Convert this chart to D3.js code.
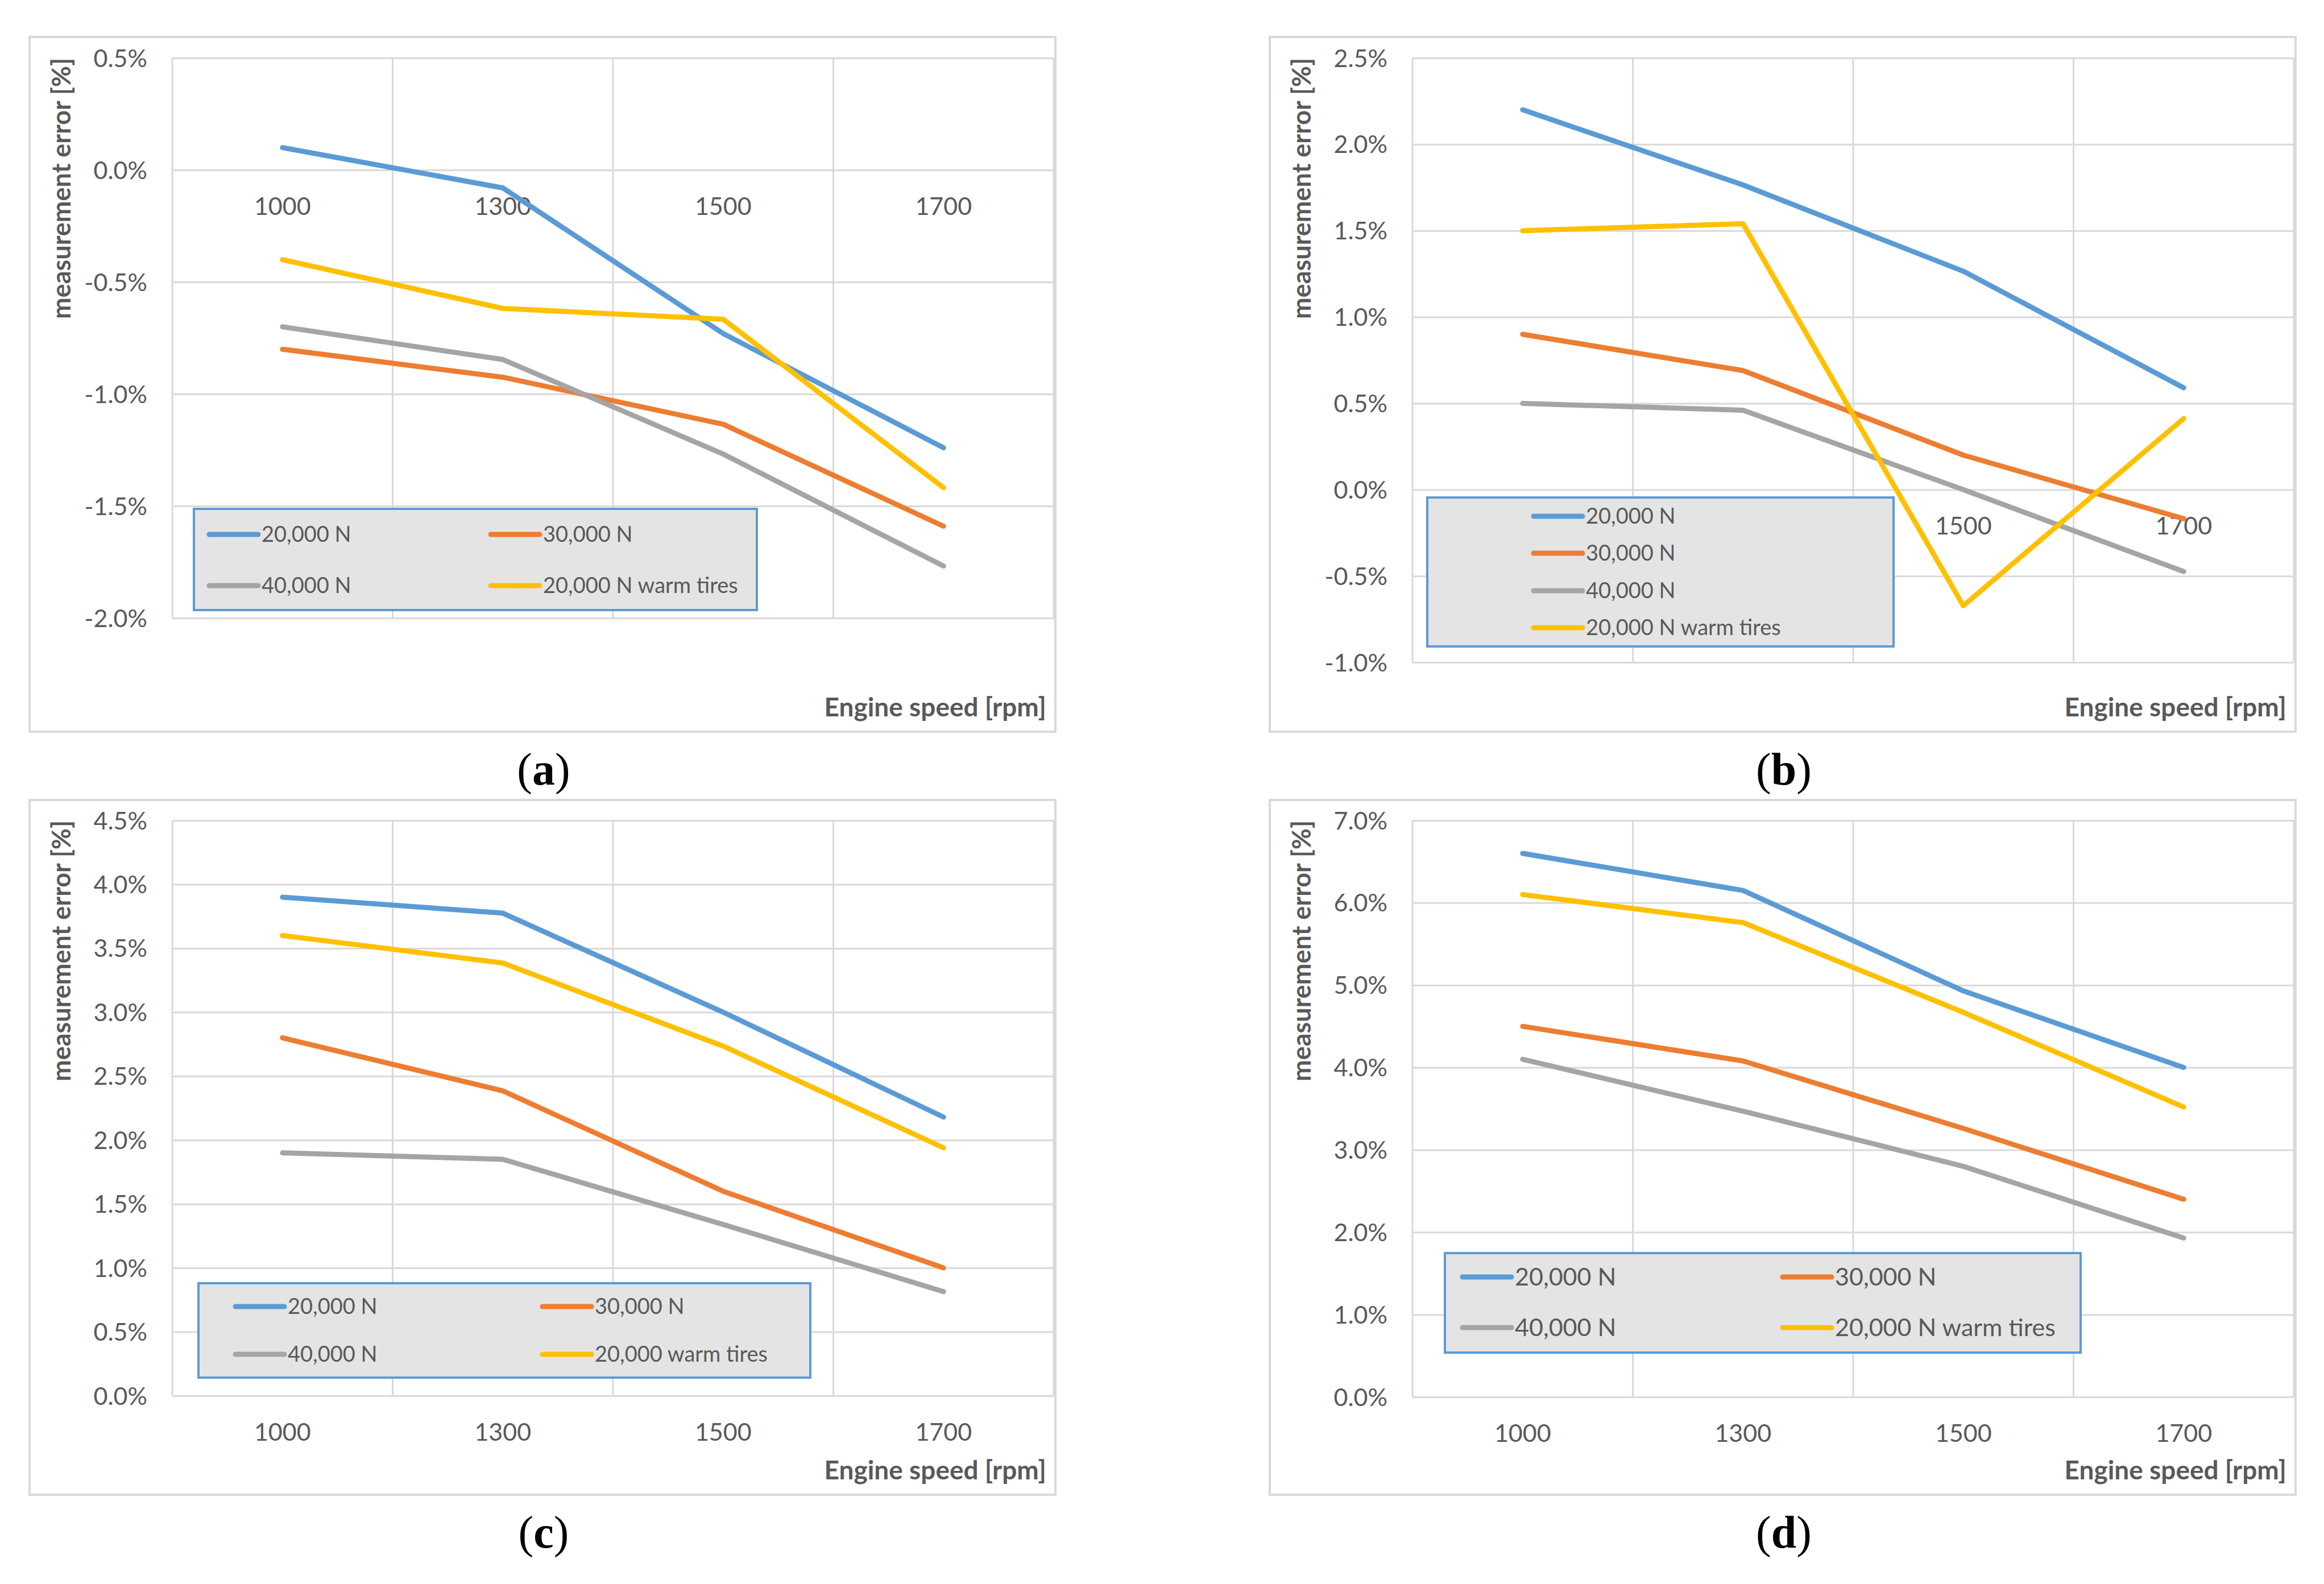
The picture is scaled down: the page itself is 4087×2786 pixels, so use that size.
<!DOCTYPE html>
<html>
<head>
<meta charset="utf-8">
<script src="https://cdn.jsdelivr.net/npm/d3@7"></script>
<style>
  body { margin: 0; background: #fff; }
  svg { display: block; }
</style>
</head>
<body>
<div id="chart"></div>
<script>
(function () {

  // engine speed categories, shared by all four panels
  const categories = ['1000', '1300', '1500', '1700']

  const seriesNames = ['20,000 N', '30,000 N', '40,000 N', '20,000 N warm tires']
  // panel (c) labels the last series without the "N"
  const seriesNamesC = ['20,000 N', '30,000 N', '40,000 N', '20,000 warm tires']
  const colors = ['#5B9BD5', '#ED7D31', '#A5A5A5', '#FFC000']

  // measurement error [%], one row per series (20k, 30k, 40k, 20k warm)
  const valuesA = [
    [0.10, -0.08, -0.73, -1.24],
    [-0.80, -0.925, -1.135, -1.59],
    [-0.70, -0.846, -1.268, -1.768],
    [-0.40, -0.618, -0.666, -1.418]
  ]
  const valuesB = [
    [2.20, 1.765, 1.265, 0.59],
    [0.90, 0.69, 0.20, -0.168],
    [0.50, 0.46, 0.00, -0.474],
    [1.50, 1.54, -0.672, 0.412]
  ]
  const valuesC = [
    [3.90, 3.775, 3.00, 2.18],
    [2.80, 2.385, 1.60, 1.00],
    [1.90, 1.85, 1.34, 0.815],
    [3.60, 3.385, 2.735, 1.94]
  ]
  const valuesD = [
    [6.60, 6.15, 4.93, 4.00],
    [4.50, 4.08, 3.26, 2.40],
    [4.10, 3.47, 2.80, 1.93],
    [6.10, 5.76, 4.67, 3.52]
  ]

  // y tick labels
  const ticksA = [-2.0, -1.5, -1.0, -0.5, 0.0, 0.5]
  const ticksB = [-1.0, -0.5, 0.0, 0.5, 1.0, 1.5, 2.0, 2.5]
  const ticksC = [0.0, 0.5, 1.0, 1.5, 2.0, 2.5, 3.0, 3.5, 4.0, 4.5]
  const ticksD = [0.0, 1.0, 2.0, 3.0, 4.0, 5.0, 6.0, 7.0]

  const letters = ['a', 'b', 'c', 'd']

  const W = 4087
  const H = 2786
  const frameW = 1804
  const frameH = 1222
  const plotLeft = 251
  const plotRight = 1801
  const gray = '#595959'
  const gridColor = '#D9D9D9'
  const sans = 'Lato, "Open Sans", sans-serif'

  // layout of each panel, in pixels relative to its frame
  const panels = [
    { fx: 52, fy: 65, values: valuesA, ticks: ticksA, names: seriesNames, top: 37, bottom: 1022,
      legend: { x: 289, y: 830, w: 990, h: 178, cols: [316, 811], rows: [875, 965], font: 38 } },
    { fx: 2233, fy: 65, values: valuesB, ticks: ticksB, names: seriesNames, top: 37, bottom: 1100,
      legend: { x: 277, y: 810, w: 820, h: 262, cols: [464], rows: [843, 908, 974, 1039], font: 38 } },
    { fx: 52, fy: 1407, values: valuesC, ticks: ticksC, names: seriesNamesC, top: 36, bottom: 1048,
      legend: { x: 297, y: 850, w: 1076, h: 166, cols: [362, 902], rows: [891, 975], font: 38 } },
    { fx: 2233, fy: 1407, values: valuesD, ticks: ticksD, names: seriesNames, top: 36, bottom: 1050,
      legend: { x: 308, y: 797, w: 1118, h: 175, cols: [339, 902], rows: [839, 928], font: 43 } }
  ]

  const svg = d3.select('#chart').append('svg')
    .attr('width', W)
    .attr('height', H)

  svg.append('rect')
    .attr('width', W)
    .attr('height', H)
    .attr('fill', '#fff')

  panels.forEach((p, idx) => {
    const g = svg.append('g')
      .attr('transform', 'translate(' + p.fx + ',' + p.fy + ')')

    // chart frame
    g.append('rect')
      .attr('x', 0)
      .attr('y', 0)
      .attr('width', frameW)
      .attr('height', frameH)
      .attr('fill', '#fff')
      .attr('stroke', gridColor)
      .attr('stroke-width', 4)

    const xScale = d3.scaleBand()
      .domain(categories)
      .range([plotLeft, plotRight])

    const yScale = d3.scaleLinear()
      .domain(d3.extent(p.ticks))
      .range([p.bottom, p.top])

    // vertical gridlines sit between the categories
    g.selectAll('.vgrid')
      .data(d3.range(categories.length + 1))
      .join('line')
      .attr('class', 'vgrid')
      .attr('x1', i => xScale.range()[0] + i * xScale.step())
      .attr('x2', i => xScale.range()[0] + i * xScale.step())
      .attr('y1', p.top)
      .attr('y2', p.bottom)
      .attr('stroke', gridColor)
      .attr('stroke-width', 3)

    // y axis with horizontal gridlines
    const yAxis = d3.axisLeft(yScale)
      .tickValues(p.ticks)
      .tickSize(-(plotRight - plotLeft))
      .tickPadding(44)
      .tickFormat(d => d.toFixed(1) + '%')

    const yg = g.append('g')
      .attr('transform', 'translate(' + plotLeft + ',0)')
      .call(yAxis)
    yg.select('.domain').remove()
    yg.selectAll('line')
      .attr('stroke', gridColor)
      .attr('stroke-width', 3)
    yg.selectAll('text')
      .attr('fill', gray)
      .attr('font-family', sans)
      .attr('font-size', 43)
      .attr('dy', '0.35em')

    // category labels hang below the zero line
    const xAxis = d3.axisBottom(xScale)
      .tickSize(0)
      .tickPadding(48)

    const xg = g.append('g')
      .attr('transform', 'translate(0,' + yScale(0) + ')')
      .call(xAxis)
    xg.select('.domain').remove()
    xg.selectAll('text')
      .attr('fill', gray)
      .attr('font-family', sans)
      .attr('font-size', 43)

    // series lines
    const line = d3.line()
      .x((d, i) => xScale(categories[i]) + xScale.bandwidth() / 2)
      .y(d => yScale(d))

    g.selectAll('.series')
      .data(p.values)
      .join('path')
      .attr('class', 'series')
      .attr('d', d => line(d))
      .attr('fill', 'none')
      .attr('stroke', (d, i) => colors[i])
      .attr('stroke-width', 9)
      .attr('stroke-linejoin', 'round')
      .attr('stroke-linecap', 'round')

    // legend box
    const lg = p.legend
    g.append('rect')
      .attr('x', lg.x)
      .attr('y', lg.y)
      .attr('width', lg.w)
      .attr('height', lg.h)
      .attr('fill', '#E4E4E4')
      .attr('stroke', '#5B9BD5')
      .attr('stroke-width', 4)

    const items = g.selectAll('.legend-item')
      .data(p.names)
      .join('g')
      .attr('class', 'legend-item')
      .attr('transform', (d, i) => {
        const col = i % lg.cols.length
        const row = Math.floor(i / lg.cols.length)
        return 'translate(' + lg.cols[col] + ',' + lg.rows[row] + ')'
      })

    items.append('line')
      .attr('x1', 0)
      .attr('x2', 86)
      .attr('stroke', (d, i) => colors[i])
      .attr('stroke-width', 9)
      .attr('stroke-linecap', 'round')

    items.append('text')
      .attr('x', 92)
      .attr('dy', '0.35em')
      .attr('fill', gray)
      .attr('font-family', sans)
      .attr('font-size', lg.font)
      .text(d => d)

    // axis titles
    g.append('text')
      .attr('transform', 'translate(56,' + p.top + ') rotate(-90)')
      .attr('text-anchor', 'end')
      .attr('dy', '0.35em')
      .attr('fill', gray)
      .attr('font-family', sans)
      .attr('font-weight', 'bold')
      .attr('font-size', 45)
      .text('measurement error [%]')

    g.append('text')
      .attr('x', 1788)
      .attr('y', 1179)
      .attr('text-anchor', 'end')
      .attr('dy', '0.35em')
      .attr('fill', gray)
      .attr('font-family', sans)
      .attr('font-weight', 'bold')
      .attr('font-size', 46)
      .text('Engine speed [rpm]')

    // caption (a)..(d)
    const cap = g.append('text')
      .attr('x', 904)
      .attr('y', 1289)
      .attr('text-anchor', 'middle')
      .attr('dy', '0.33em')
      .attr('fill', '#000')
      .attr('font-family', '"Liberation Serif", "DejaVu Serif", serif')
      .attr('font-size', 80)
    cap.append('tspan').text('(')
    cap.append('tspan').attr('font-weight', 'bold').text(letters[idx])
    cap.append('tspan').text(')')
  })

})();
</script>
</body>
</html>
